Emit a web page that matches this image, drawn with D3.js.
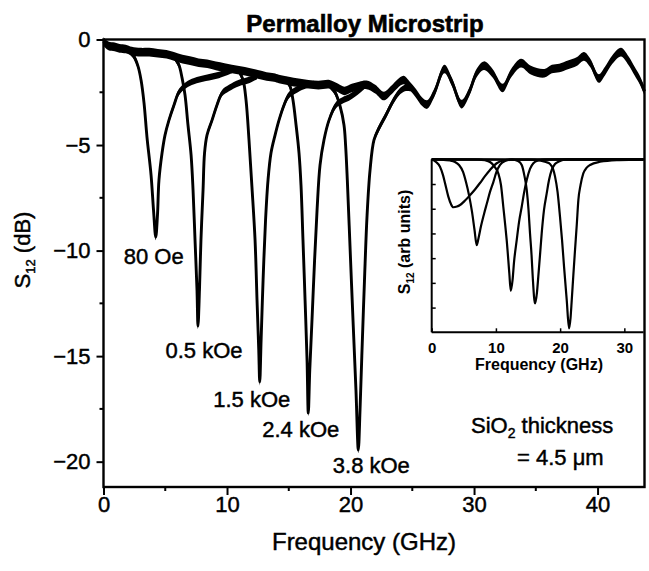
<!DOCTYPE html>
<html>
<head>
<meta charset="utf-8">
<script src="https://cdn.jsdelivr.net/npm/d3@7"></script>
<style>
  html, body { margin: 0; padding: 0; background: #fff; }
  svg { display: block; }
  text { font-family: "Liberation Sans", Arial, Helvetica, sans-serif; fill: #000; }
</style>
</head>
<body>
<svg id="chart" width="649" height="571"></svg>
<script>
// ---- S12 transmission traces, [frequency GHz, S12 dB] ----
// Common off-resonance trace shared by all field settings
const sharedTrace = [
  [0, -0.1], [0.4, -0.3], [0.9, -0.35], [1.3, -0.42], [1.8, -0.45], [2.3, -0.55],
  [3.0, -0.6], [3.7, -0.6], [4.4, -0.65], [5.1, -0.7], [5.7, -0.8], [6.4, -0.93],
  [7.0, -1.0], [7.7, -1.1], [8.4, -1.15], [9.1, -1.25], [9.8, -1.33], [10.4, -1.4],
  [11.1, -1.47], [11.8, -1.55], [12.5, -1.65], [13.2, -1.75], [13.8, -1.8], [14.2, -1.87],
  [15.0, -1.97], [15.8, -2.05], [16.6, -2.12], [17.4, -2.16], [18.3, -2.12], [19.0, -2.3],
  [19.5, -2.44], [20.1, -2.3], [20.7, -2.2], [21.3, -2.15], [22.0, -2.35], [22.7, -2.68],
  [23.3, -2.4], [23.8, -2.1], [24.3, -1.92], [24.8, -2.2], [25.3, -2.55], [25.8, -2.95],
  [26.2, -3.08], [26.8, -2.5], [27.6, -1.4], [28.2, -2.0], [29.0, -3.06], [29.6, -2.5],
  [30.2, -1.6], [30.8, -1.24], [31.5, -1.6], [32.3, -2.3], [33.0, -1.6], [33.8, -1.12],
  [34.6, -1.45], [35.7, -1.6], [36.3, -1.4], [36.9, -1.35], [37.6, -1.2], [38.3, -1.05],
  [38.9, -0.8], [39.4, -1.1], [40.1, -1.85], [40.6, -1.5], [41.2, -0.95], [41.9, -0.6],
  [42.5, -1.0], [43.0, -1.5], [43.4, -1.9], [43.8, -2.45]
];

// Resonance dips, one per applied field
const dip80Oe = [
  [1.9, -0.45], [2.39, -0.73], [2.79, -1.26], [3.04, -1.92], [3.28, -3.0], [3.52, -4.62],
  [3.85, -6.42], [4.05, -8.08], [4.23, -9.36], [4.37, -8.32], [4.49, -6.66], [4.74, -5.38],
  [4.98, -4.53], [5.3, -3.82], [5.71, -3.1], [6.11, -2.49], [6.68, -2.16], [7.33, -1.97],
  [8.3, -1.82], [9.35, -1.68], [10.4, -1.45]
];
const dip05kOe = [
  [5.79, -0.88], [6.11, -1.21], [6.36, -1.82], [6.6, -2.63], [6.84, -4.05], [7.09, -5.47],
  [7.25, -7.13], [7.41, -9.5], [7.57, -11.87], [7.65, -13.58], [7.77, -11.87], [7.89, -9.5],
  [8.06, -7.13], [8.18, -5.38], [8.38, -4.53], [8.79, -3.82], [9.19, -3.1], [9.6, -2.54],
  [10.16, -2.3], [10.97, -2.06], [11.78, -1.92], [12.43, -1.73]
];
const dip15kOe = [
  [10.97, -1.5], [11.3, -1.92], [11.54, -2.87], [11.78, -4.76], [12.02, -6.99], [12.27, -9.5],
  [12.43, -12.35], [12.57, -14.72], [12.65, -16.23], [12.76, -14.24], [12.92, -11.4], [13.12, -8.55],
  [13.32, -6.66], [13.56, -5.38], [13.89, -4.53], [14.21, -3.82], [14.62, -3.1], [15.02, -2.63],
  [15.59, -2.39], [16.23, -2.2], [17.04, -2.1]
];
const dip24kOe = [
  [14.78, -1.9], [15.1, -2.2], [15.34, -2.87], [15.59, -4.05], [15.83, -5.38], [15.99, -6.9],
  [16.15, -9.5], [16.32, -12.35], [16.48, -15.19], [16.58, -17.7], [16.7, -15.66], [16.88, -13.29],
  [17.09, -10.45], [17.29, -8.08], [17.53, -5.95], [17.85, -4.76], [18.26, -3.82], [18.83, -3.1],
  [19.31, -2.9], [19.88, -2.75], [20.5, -2.5], [21.1, -2.2]
];
const dip38kOe = [
  [18.26, -2.15], [18.74, -2.49], [19.15, -3.15], [19.47, -4.05], [19.6, -5.0], [19.74, -6.66],
  [19.97, -9.98], [20.2, -13.29], [20.44, -16.61], [20.63, -19.45], [20.77, -17.54], [20.93, -14.72],
  [21.13, -11.4], [21.34, -8.32], [21.58, -6.19], [21.9, -4.76], [22.31, -4.19], [22.87, -3.58],
  [23.36, -3.01], [23.93, -2.5], [24.4, -2.3], [24.9, -2.3]
];

const fieldLabels = ["80 Oe", "0.5 kOe", "1.5 kOe", "2.4 kOe", "3.8 kOe"];

// Inset: calculated S12 (arbitrary units) vs frequency
const calc80Oe = [
  [0, 0], [0.67, -0.11], [1.29, -0.3], [1.76, -0.64], [2.07, -0.96], [2.59, -1.51], [3.0, -1.81],
  [3.36, -1.94], [3.94, -1.91], [4.41, -1.85], [5.19, -1.67], [5.97, -1.45], [6.74, -1.22],
  [7.52, -0.96], [8.3, -0.68], [9.08, -0.43], [10.12, -0.16], [11.1, -0.05], [12.5, -0.01], [33, 0]
];
const calc05kOe = [
  [0, 0], [1.29, -0.01], [2.85, -0.05], [3.63, -0.11], [4.25, -0.23], [4.88, -0.51], [5.34, -0.92],
  [5.81, -1.45], [6.28, -2.13], [6.67, -2.86], [7.01, -3.47], [7.29, -3.19], [7.68, -2.7],
  [8.15, -2.21], [8.61, -1.77], [9.08, -1.32], [9.6, -0.92], [10.09, -0.51], [10.64, -0.23],
  [11.42, -0.07], [12.5, -0.01], [33, 0]
];
const calc15kOe = [
  [0, 0], [7.21, -0.01], [8.3, -0.04], [9.08, -0.11], [9.7, -0.27], [10.37, -0.57], [10.79, -1.04],
  [11.15, -1.92], [11.45, -2.66], [11.68, -3.27], [12.09, -4.62], [12.31, -5.32], [12.59, -4.89],
  [12.82, -4.16], [13.24, -3.27], [13.6, -2.54], [14.02, -1.92], [14.38, -1.36], [14.8, -0.84],
  [15.31, -0.39], [15.83, -0.16], [16.56, -0.05], [17.65, -0.01], [33, 0]
];
const calc24kOe = [
  [0, 0], [12.5, -0.01], [13.44, -0.07], [14.02, -0.23], [14.45, -0.68], [14.8, -1.24], [15.08, -2.05],
  [15.31, -3.0], [15.55, -3.87], [15.73, -4.74], [16.09, -5.83], [16.4, -5.37], [16.6, -4.75],
  [16.87, -3.87], [17.13, -3.0], [17.49, -2.05], [17.91, -1.38], [18.27, -0.84], [18.69, -0.43],
  [19.2, -0.19], [19.72, -0.1], [20.76, -0.01], [33, 0]
];
const calc38kOe = [
  [0, 0], [15.31, -0.01], [16.87, -0.05], [17.8, -0.11], [18.43, -0.19], [18.89, -0.39], [19.21, -0.7],
  [19.6, -1.32], [19.98, -2.32], [20.3, -3.27], [20.61, -4.34], [21.03, -5.7], [21.39, -6.84],
  [21.62, -6.43], [21.81, -5.7], [22.06, -4.68], [22.32, -3.67], [22.59, -2.66], [22.84, -1.65],
  [23.18, -1.04], [23.61, -0.57], [24.11, -0.35], [24.66, -0.23], [26.21, -0.1], [28.82, -0.03],
  [32.6, -0.01], [33, 0]
];

// Axis ticks
const freqTicks = [0, 10, 20, 30, 40];
const freqMinorTicks = [5, 15, 25, 35];
const dbTicks = [0, -5, -10, -15, -20];
const dbMinorTicks = [-2.5, -7.5, -12.5, -17.5];
const insetFreqTicks = [0, 10, 20, 30];
const insetLevelTicks = [-1, -2, -3, -4, -5, -6];

// ---- drawing ----
const svg = d3.select("#chart");
const font = "'Liberation Sans', Arial, Helvetica, sans-serif";
// heavy print look for text
const ink = sel => sel.attr("stroke", "#000").attr("stroke-width", 0.45);

const x = d3.scaleLinear().domain([0, 43.8]).range([103.5, 644.5]);
const y = d3.scaleLinear().domain([-21.2, 0]).range([487, 39.5]);

// Main axes
const xAxis = d3.axisBottom(x).tickValues(freqTicks).tickSizeInner(8).tickSizeOuter(0).tickPadding(1)
  .tickFormat(d3.format("d"));
const yAxis = d3.axisLeft(y).tickValues(dbTicks).tickSizeInner(7).tickSizeOuter(0).tickPadding(6)
  .tickFormat(d3.format("d"));

const gx = svg.append("g").attr("transform", `translate(0,${y.range()[0]})`).call(xAxis);
const gy = svg.append("g").attr("transform", `translate(${x.range()[0]},0)`).call(yAxis);
[gx, gy].forEach(g => {
  g.select(".domain").remove();
  g.selectAll(".tick line").attr("stroke", "#000").attr("stroke-width", 2);
  g.selectAll(".tick text").attr("font-family", font).attr("font-size", 22).attr("fill", "#000").call(ink);
});
// minor ticks
svg.append("g").selectAll("line").data(freqMinorTicks).join("line")
  .attr("x1", d => x(d)).attr("x2", d => x(d))
  .attr("y1", y.range()[0]).attr("y2", y.range()[0] + 4)
  .attr("stroke", "#000").attr("stroke-width", 2);
svg.append("g").selectAll("line").data(dbMinorTicks).join("line")
  .attr("x1", x.range()[0] - 4).attr("x2", x.range()[0])
  .attr("y1", d => y(d)).attr("y2", d => y(d))
  .attr("stroke", "#000").attr("stroke-width", 2);

// Frame
svg.append("rect")
  .attr("x", x.range()[0]).attr("y", y.range()[1])
  .attr("width", x.range()[1] - x.range()[0]).attr("height", y.range()[0] - y.range()[1])
  .attr("fill", "none").attr("stroke", "#000").attr("stroke-width", 2.4);

// Measured traces: a band (measurement noise) plus a solid core line
const curve = d3.curveCatmullRom.alpha(0.5);
const band = h => d3.area().curve(curve).x(d => x(d[0])).y0(d => y(d[1]) + h).y1(d => y(d[1]) - h);
const core = d3.line().curve(curve).x(d => x(d[0])).y(d => y(d[1]));
const traces = [
  { data: sharedTrace, noise: 4.3 },
  { data: dip80Oe, noise: 3.2 },
  { data: dip05kOe, noise: 3.2 },
  { data: dip15kOe, noise: 3.2 },
  { data: dip24kOe, noise: 3.2 },
  { data: dip38kOe, noise: 3.2 }
];
const gTr = svg.append("g");
traces.forEach(t => {
  gTr.append("path").attr("d", band(t.noise)(t.data)).attr("fill", "#000");
  gTr.append("path").attr("d", core(t.data)).attr("fill", "none").attr("stroke", "#000")
    .attr("stroke-width", 2.9).attr("stroke-linejoin", "round");
});

// Field labels under each dip minimum
const dips = [dip80Oe, dip05kOe, dip15kOe, dip24kOe, dip38kOe];
const labelOffsets = [[-2, 26.5], [6, 32], [-8, 24.5], [-7.5, 23.5], [13, 23]];
dips.forEach((d, i) => {
  const m = d3.least(d, p => p[1]);
  svg.append("text")
    .attr("x", x(m[0]) + labelOffsets[i][0]).attr("y", y(m[1]) + labelOffsets[i][1])
    .attr("text-anchor", "middle").attr("font-size", 22).call(ink).text(fieldLabels[i]);
});

// Title and axis labels
svg.append("text").attr("x", 365).attr("y", 31.5).attr("text-anchor", "middle")
  .attr("font-size", 24).attr("font-weight", "bold").attr("stroke", "#000").attr("stroke-width", 0.6)
  .text("Permalloy Microstrip");
svg.append("text").attr("x", 364).attr("y", 550).attr("text-anchor", "middle")
  .attr("font-size", 24).call(ink).text("Frequency (GHz)");
const yl = svg.append("text").attr("transform", "translate(30,250) rotate(-90)")
  .attr("text-anchor", "middle").attr("font-size", 22).call(ink);
yl.append("tspan").text("S");
yl.append("tspan").attr("font-size", 13).attr("dy", 5).text("12");
yl.append("tspan").attr("dy", -5).text(" (dB)");

// SiO2 annotation
const sio = svg.append("text").attr("x", 471).attr("y", 433).attr("font-size", 22).call(ink);
sio.append("tspan").text("SiO");
sio.append("tspan").attr("font-size", 14).attr("dy", 5).text("2");
sio.append("tspan").attr("dy", -5).text(" thickness");
svg.append("text").attr("x", 517).attr("y", 465).attr("font-size", 22).call(ink).text("= 4.5 \u03bcm");

// ---- Inset ----
const xi = d3.scaleLinear().domain([0, 33]).range([431.7, 643.6]);
const yi = d3.scaleLinear().domain([-7, 0]).range([332.3, 159.3]);

const gi = svg.append("g");
gi.append("line").attr("x1", xi(0)).attr("x2", xi(0)).attr("y1", yi(0)).attr("y2", yi(-7))
  .attr("stroke", "#000").attr("stroke-width", 2);
gi.append("line").attr("x1", xi(0)).attr("x2", xi.range()[1]).attr("y1", yi(-7)).attr("y2", yi(-7))
  .attr("stroke", "#000").attr("stroke-width", 2);

const xiAxis = d3.axisBottom(xi).tickValues(insetFreqTicks).tickSizeInner(-4).tickSizeOuter(0)
  .tickPadding(10).tickFormat(d3.format("d"));
const yiAxis = d3.axisLeft(yi).tickValues(insetLevelTicks).tickSizeInner(-4).tickSizeOuter(0)
  .tickFormat("");
const gxi = gi.append("g").attr("transform", `translate(0,${yi(-7)})`).call(xiAxis);
const gyi = gi.append("g").attr("transform", `translate(${xi(0)},0)`).call(yiAxis);
[gxi, gyi].forEach(g => {
  g.select(".domain").remove();
  g.selectAll(".tick line").attr("stroke", "#000").attr("stroke-width", 1.5);
  g.selectAll(".tick text").attr("font-family", font).attr("font-size", 15)
    .attr("font-weight", "bold").attr("fill", "#000");
});

const lineI = d3.line().x(d => xi(d[0])).y(d => yi(d[1])).curve(d3.curveMonotoneX);
[calc80Oe, calc05kOe, calc15kOe, calc24kOe, calc38kOe].forEach(c => {
  gi.append("path").attr("d", lineI(c)).attr("fill", "none").attr("stroke", "#000")
    .attr("stroke-width", 2.2);
});

gi.append("text").attr("x", 539).attr("y", 370).attr("text-anchor", "middle")
  .attr("font-size", 16).attr("font-weight", "bold").text("Frequency (GHz)");
const yil = gi.append("text").attr("transform", "translate(410,242) rotate(-90)")
  .attr("text-anchor", "middle").attr("font-size", 16).attr("font-weight", "bold");
yil.append("tspan").text("S");
yil.append("tspan").attr("font-size", 10).attr("dy", 4).text("12");
yil.append("tspan").attr("dy", -4).text(" (arb units)");
</script>
</body>
</html>
